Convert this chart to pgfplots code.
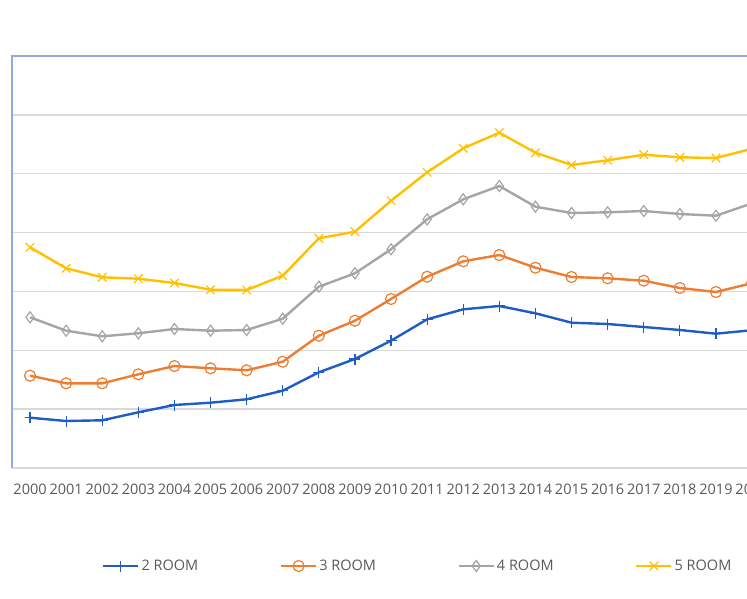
\documentclass[border=0pt]{standalone}
\usepackage{pgfplots}
\pgfplotsset{compat=1.18}
\usepackage{fontspec}
\setmainfont{Open Sans}
\definecolor{cblue}{RGB}{31,92,196}
\definecolor{corange}{RGB}{237,125,49}
\definecolor{cgray}{RGB}{165,165,165}
\definecolor{cyellow}{RGB}{255,192,0}
\definecolor{frameblue}{RGB}{143,170,220}
\definecolor{gridgray}{RGB}{217,217,217}
\definecolor{txt}{RGB}{89,89,89}
\begin{document}
\begin{tikzpicture}
\begin{axis}[
  scale only axis,
  width=758.1pt, height=412pt,
  xmin=-0.5, xmax=20.5,
  ymin=0, ymax=412,
  axis line style={draw=none},
  ytick distance=58.857,
  yticklabels={},
  ymajorgrids,
  major grid style={gridgray, line width=1.3pt},
  xtick={0,...,20},
  xticklabels={2000,2001,2002,2003,2004,2005,2006,2007,2008,2009,2010,2011,2012,2013,2014,2015,2016,2017,2018,2019,2020},
  major tick length=0pt,
  xticklabel style={font=\fontsize{14.5}{17}\selectfont, text=txt, yshift=-12pt},
  /pgf/number format/assume math mode=true,
  clip=false,
  legend columns=4,
  legend style={draw=none, fill=none, inner sep=0pt, anchor=west,
    at={(axis description cs:0.1187,-0.2379)},
    font=\fontsize{14.5}{17}\selectfont, text=txt,
    /tikz/every even column/.append style={column sep=79.6pt}},
  legend cell align=left,
  legend image code/.code={\draw[mark repeat=2,mark phase=2] plot coordinates {(0pt,0pt) (17.5pt,0pt) (35pt,0pt)};},
  every axis plot/.append style={line width=2.4pt},
]
\addplot[cblue, mark=+, mark size=5.5pt, mark options={line width=1.2pt}] coordinates {
(0,50.3) (1,47) (2,47.7) (3,55.7) (4,63) (5,65.3) (6,68.7) (7,77.3) (8,95.7) (9,109) (10,127.3)
(11,148.7) (12,158.7) (13,162) (14,154.7) (15,145.3) (16,144) (17,141) (18,138) (19,134.3) (20,137.8)};
\addlegendentry{2 ROOM}
\addplot[corange, mark=o, mark size=5.5pt, mark options={line width=1.2pt, fill=white}] coordinates {
(0,92.3) (1,84.7) (2,84.7) (3,93.7) (4,102) (5,99.7) (6,97.7) (7,106.3) (8,132.3) (9,147.3) (10,169)
(11,191.3) (12,206.7) (13,213) (14,200.3) (15,191) (16,189.7) (17,187.3) (18,180) (19,176) (20,184.9)};
\addlegendentry{3 ROOM}
\addplot[cgray, mark=diamond, mark size=5.5pt, mark options={line width=1.2pt, fill=white}] coordinates {
(0,150.7) (1,137.3) (2,131.7) (3,134.7) (4,139) (5,137.3) (6,138) (7,149.3) (8,181.3) (9,194.7) (10,218.7)
(11,248.7) (12,268.7) (13,282) (14,261.3) (15,255) (16,255.7) (17,257) (18,254) (19,252.3) (20,264.7)};
\addlegendentry{4 ROOM}
\addplot[cyellow, mark=x, mark size=6pt, mark options={line width=1.2pt}] coordinates {
(0,220.7) (1,199.7) (2,190.7) (3,189.3) (4,185) (5,178.3) (6,178) (7,192.3) (8,229.7) (9,236.3) (10,267.3)
(11,295.7) (12,319.7) (13,335.3) (14,315.3) (15,303) (16,307.7) (17,313.3) (18,310.7) (19,310) (20,319.3)};
\addlegendentry{5 ROOM}
\draw[frameblue, line width=1.3pt] (axis description cs:0,0) -- (axis description cs:0,1) -- (axis description cs:1,1);
\end{axis}
\pgfresetboundingbox
\path[use as bounding box] (-12pt,-130pt) rectangle (735pt,468pt);
\end{tikzpicture}
\end{document}
